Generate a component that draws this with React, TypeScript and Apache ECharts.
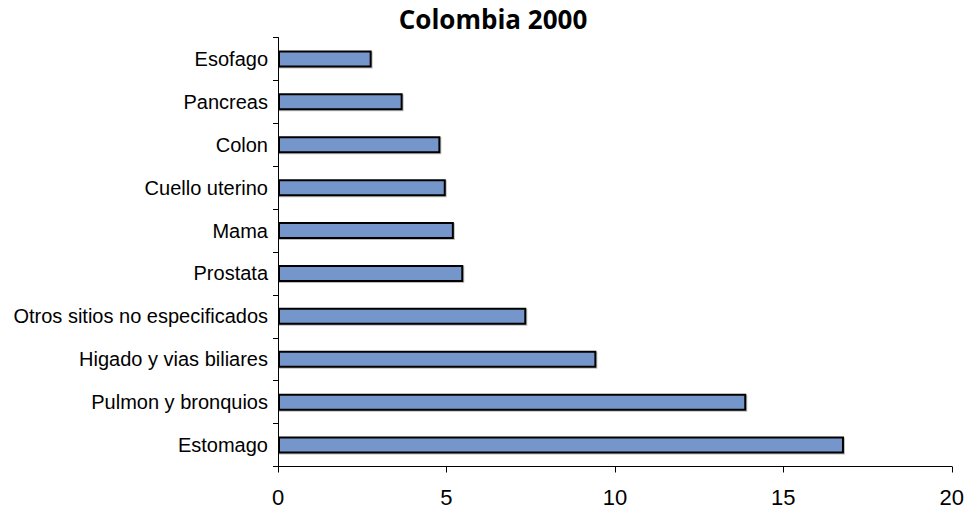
import React, { useEffect, useRef } from "react";
import * as echarts from "echarts";

const categories = [
  "Estomago",
  "Pulmon y bronquios",
  "Higado y vias biliares",
  "Otros sitios no especificados",
  "Prostata",
  "Mama",
  "Cuello uterino",
  "Colon",
  "Pancreas",
  "Esofago",
];
const values = [16.8, 13.9, 9.45, 7.37, 5.5, 5.22, 4.98, 4.82, 3.7, 2.78];
const titleText = "Colombia 2000";

export default function App() {
  const ref = useRef<HTMLDivElement>(null);
  useEffect(() => {
    document.body.style.margin = "0";
    const chart = echarts.init(ref.current!, null, { renderer: "svg" });
    chart.setOption({
      animation: false,
      title: {
        text: titleText,
        left: 488,
        top: 1,
        textAlign: "center",
        textStyle: {
          fontFamily: "Open Sans",
          fontWeight: 700,
          fontSize: 26,
          color: "#000",
        },
      },
      grid: { left: 278, right: 15, top: 37.5, bottom: 46.5, containLabel: false },
      xAxis: {
        type: "value",
        min: 0,
        max: 20,
        interval: 5,
        axisLine: { show: true, lineStyle: { color: "#000", width: 1 } },
        axisTick: { show: true, length: 6, lineStyle: { color: "#000" } },
        splitLine: { show: false },
        axisLabel: {
          fontFamily: "Liberation Sans",
          fontSize: 22,
          color: "#000",
          margin: 20,
        },
      },
      yAxis: {
        type: "category",
        data: categories,
        axisLine: { show: true, lineStyle: { color: "#000", width: 1 } },
        axisTick: { show: true, length: 5, lineStyle: { color: "#000" } },
        axisLabel: {
          fontFamily: "Liberation Sans",
          fontSize: 20,
          color: "#000",
          margin: 10,
        },
      },
      series: [
        {
          type: "bar",
          data: values,
          barWidth: 17,
          itemStyle: {
            color: "#7596CA",
            borderColor: "#000",
            borderWidth: 2,
            shadowColor: "rgba(0,0,0,0.25)",
            shadowOffsetX: 1,
            shadowOffsetY: 1,
            shadowBlur: 1,
          },
        },
      ],
    });
    return () => chart.dispose();
  }, []);
  return <div ref={ref} style={{ width: 967, height: 513 }} />;
}
